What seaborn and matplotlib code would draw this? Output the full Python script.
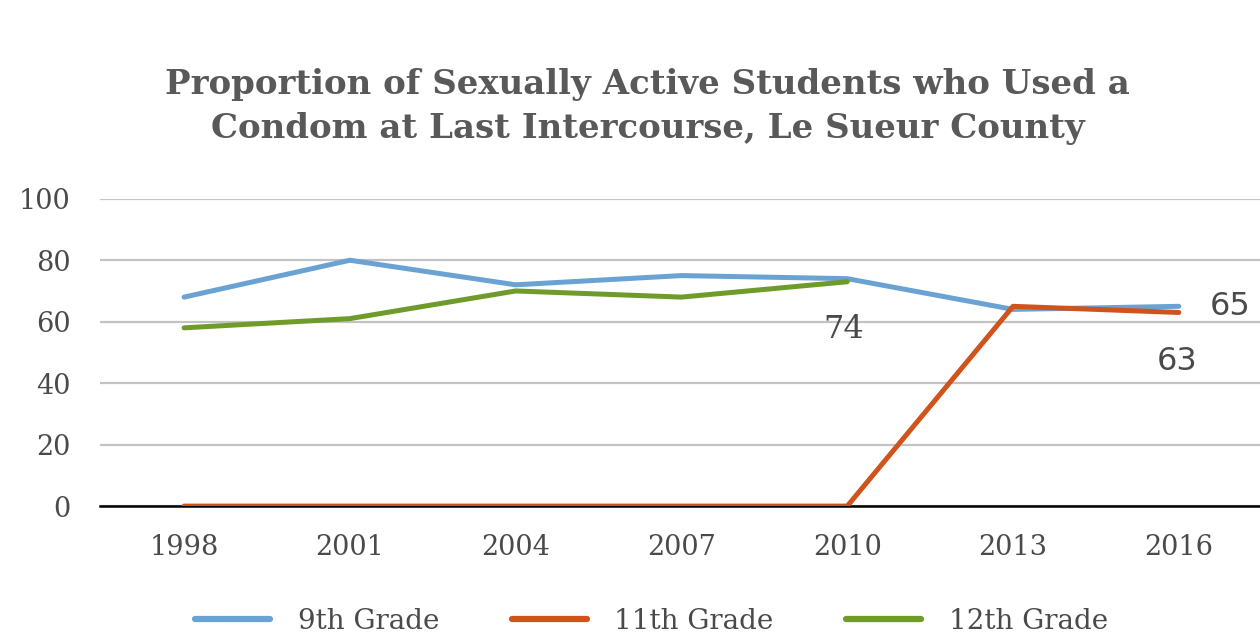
import matplotlib
matplotlib.use('Agg')
import matplotlib.pyplot as plt
import seaborn as sns
import pandas as pd
import numpy as np

# dados
years = ['1998', '2001', '2004', '2007', '2010', '2013', '2016']
grade9 = [68, 80, 72, 75, 74, 64, 65]
grade11 = [0, 0, 0, 0, 0, 65, 63]
grade12 = [58, 61, 70, 68, 73, np.nan, np.nan]
series_names = ['9th Grade', '11th Grade', '12th Grade']
colors = ['#6aa3d3', '#d1531c', '#6f9b2b']

df = pd.DataFrame({'Year': years, series_names[0]: grade9,
                   series_names[1]: grade11, series_names[2]: grade12})
df_long = df.melt(id_vars='Year', var_name='Grade', value_name='Pct').dropna()
df_long['x'] = df_long['Year'].map({y: i for i, y in enumerate(years)})

sns.set_style('white')
plt.rcParams['font.family'] = ['DejaVu Serif']

fig = plt.figure(figsize=(12.6, 6.35), dpi=100)
ax = fig.add_axes([0.079, 0.203, 0.925, 0.484])

sns.lineplot(data=df_long, x='x', y='Pct', hue='Grade', hue_order=series_names,
             palette=dict(zip(series_names, colors)), linewidth=3.6, sort=False,
             estimator=None, ax=ax, zorder=3, legend=False)

ax.set_ylim(0, 100)
ax.set_xlim(-0.51, 6.52)
ax.set_yticks(range(0, 101, 20))
ax.set_xticks(range(len(years)))
ax.set_xticklabels(years)
ax.yaxis.grid(True, color='#c3c3c3', linewidth=1.6)
ax.set_axisbelow(True)
for s in ['top', 'right', 'left']:
    ax.spines[s].set_visible(False)
ax.spines['bottom'].set_color('black')
ax.spines['bottom'].set_linewidth(1.8)
ax.spines['bottom'].set_zorder(2.5)
ax.tick_params(axis='both', length=0, labelsize=19.5, colors='#4a4a4a')
ax.tick_params(axis='x', pad=20)
ax.tick_params(axis='y', pad=21)
ax.set_xlabel('')
ax.set_ylabel('')

# rótulos de valores
ax.text(3.98, 57.3, '74', ha='center', va='center', fontsize=23, color='#4a4a4a')
ax.text(6.31, 64.8, '65', ha='center', va='center', fontsize=23, color='#4a4a4a',
        family='DejaVu Sans', clip_on=False)
ax.text(5.99, 46.9, '63', ha='center', va='center', fontsize=23, color='#4a4a4a',
        family='DejaVu Sans')

fig.text(0.514, 0.832, 'Proportion of Sexually Active Students who Used a\nCondom at Last Intercourse, Le Sueur County',
         ha='center', va='center', fontsize=24.5, fontweight='bold', color='#595959',
         linespacing=1.4)

handles = [plt.Line2D([], [], color=c, linewidth=4.5) for c in colors]
fig.legend(handles, series_names, loc='center', bbox_to_anchor=(0.517, 0.021),
           ncol=3, frameon=False, fontsize=20, handlelength=2.7, columnspacing=2.6,
           handletextpad=1.0, labelcolor='#4a4a4a', borderpad=0)

fig.savefig('out.png', dpi=100)
